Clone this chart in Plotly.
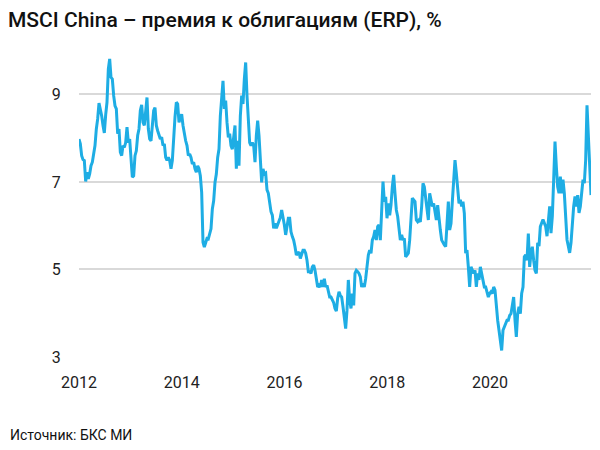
import pandas as pd
import plotly.graph_objects as go

# MSCI China ERP, % (roughly every 9-10 days, Jan 2012 - Dec 2021)
erp_2012_2015 = [
    7.98, 7.87, 7.60, 7.51, 7.49, 7.01, 7.22, 7.07, 7.18, 7.37, 7.45, 7.68, 7.83, 8.21,
    8.44, 8.80, 8.67, 8.51, 8.29, 8.12, 8.53, 8.82, 9.58, 9.81, 9.39, 9.35, 8.97, 8.74,
    8.67, 8.10, 8.21, 7.68, 7.60, 7.83, 7.79, 7.90, 8.25, 7.90, 7.98, 7.45, 7.11, 7.14,
    7.60, 7.71, 8.06, 8.21, 8.63, 8.76, 8.36, 8.29, 8.59, 8.93, 8.21, 7.98, 7.94, 8.32,
    8.63, 8.70, 8.29, 8.17, 8.06, 7.98, 8.02, 7.83, 7.87, 7.56, 7.49, 7.56, 7.49, 7.30,
    7.49, 8.13, 8.48, 8.82, 8.78, 8.36, 8.48, 8.55, 8.29, 8.06, 7.94, 7.83, 7.60, 7.64,
    7.56, 7.41, 7.45, 7.30, 7.22, 7.37, 7.30, 7.14, 6.76, 5.62, 5.51, 5.61, 5.71, 5.70,
    5.84, 5.93, 6.38, 6.57, 6.99, 7.18, 7.56, 7.75, 8.51, 9.05, 9.31, 8.67, 8.86, 8.36,
    8.02, 8.10, 7.83, 7.75, 8.10, 8.29, 7.30, 7.94, 7.37, 8.51, 8.97, 8.78, 9.35, 9.73,
    8.97, 8.29, 7.90, 7.83, 7.90, 7.83, 7.45, 8.06, 8.40, 8.06, 7.49, 6.99, 7.30, 7.18,
]
erp_2015_2018 = [
    7.20, 6.82, 6.74, 6.47, 6.32, 6.24, 5.94, 6.05, 5.94, 6.02, 6.09, 6.19, 6.36, 6.21,
    6.02, 5.79, 5.94, 6.17, 6.17, 5.86, 5.75, 5.67, 5.52, 5.33, 5.37, 5.40, 5.25, 5.37,
    5.44, 5.44, 5.37, 5.21, 4.95, 4.95, 4.91, 5.06, 5.10, 4.98, 4.76, 4.60, 4.64, 4.60,
    4.76, 4.60, 4.79, 4.60, 4.64, 4.53, 4.37, 4.37, 4.31, 4.24, 4.11, 4.05, 4.34, 4.49,
    4.41, 4.37, 4.15, 3.92, 3.65, 4.07, 4.76, 4.30, 4.11, 4.45, 4.18, 4.91, 4.98, 4.95,
    4.91, 4.83, 4.60, 4.68, 4.60, 4.79, 5.14, 5.33, 5.44, 5.37, 5.67, 5.75, 5.90, 5.67,
    5.98, 6.02, 5.67, 6.21, 7.01, 6.55, 6.66, 6.17, 6.51, 6.24, 6.47, 6.89, 7.16, 6.74,
    6.36,
]
erp_2018_2021 = [
    6.21, 5.90, 5.67, 5.79, 5.67, 5.71, 5.29, 5.33, 5.37, 5.67, 6.13, 6.63, 6.59, 6.55,
    6.13, 6.09, 6.13, 6.09, 6.44, 6.97, 6.89, 6.66, 6.44, 6.13, 6.74, 6.59, 6.44, 6.51,
    6.28, 6.13, 6.47, 6.13, 5.90, 5.67, 5.60, 5.56, 5.52, 6.05, 6.55, 5.90, 6.05, 6.55,
    6.97, 7.50, 7.20, 6.89, 6.51, 6.59, 6.44, 6.55, 6.28, 5.37, 5.44, 5.06, 4.60, 5.06,
    4.98, 4.91, 4.98, 4.60, 4.91, 4.76, 5.06, 4.91, 4.68, 4.60, 4.60, 4.45, 4.37, 4.45,
    4.49, 4.45, 4.60, 4.53, 4.15, 3.84, 3.61, 3.38, 3.15, 3.61, 3.69, 3.76, 3.84, 3.84,
    3.95, 3.99, 4.15, 4.37, 3.84, 3.46, 3.99, 4.15, 3.99, 4.45, 4.60, 5.29, 5.33, 5.21,
    5.82, 5.06, 5.37, 5.52, 5.21, 4.98, 4.91,
]
erp_2021_end = [
    5.61, 5.53, 5.98, 6.06, 6.14, 6.06, 5.98, 5.76, 6.14, 6.44, 5.83, 6.21, 7.05, 7.92,
    7.35, 6.89, 6.74, 7.12, 6.74, 7.05, 6.74, 6.29, 5.68, 5.53, 5.38, 5.61, 6.14, 6.44,
    6.67, 6.44, 6.70, 6.29, 6.44, 6.82, 7.05, 6.97, 7.50, 8.75, 7.95, 7.35, 6.70,
]

erp = erp_2012_2015 + erp_2015_2018 + erp_2018_2021 + erp_2021_end
dates = pd.date_range("2012-01-01", "2021-12-20", periods=len(erp))

y_ticks = [3, 5, 7, 9]
x_ticks = ["2012-01-01", "2014-01-01", "2016-01-01", "2018-01-01", "2020-01-01"]
x_labels = ["2012", "2014", "2016", "2018", "2020"]

fig = go.Figure()
fig.add_trace(go.Scatter(
    x=dates, y=erp, mode="lines",
    line=dict(color="#1EADE4", width=3),
    hoverinfo="skip",
))

# the page body adds an 8px margin, so everything is laid out 8px up/left
fig.update_layout(
    width=600, height=450,
    margin=dict(l=71, r=17, t=47, b=101),
    paper_bgcolor="white", plot_bgcolor="white",
    showlegend=False,
    font=dict(family="Roboto, Arial, sans-serif", size=16, color="#222222"),
    title=dict(
        text="MSCI China – премия к облигациям (ERP), %",
        x=0, xref="container", xanchor="left",
        y=1 - 12 / 450, yref="container", yanchor="middle",
        pad=dict(l=0, t=0),
        font=dict(family="Roboto, Arial, sans-serif", size=21, color="#111111", weight=500),
    ),
    annotations=[dict(
        text="Источник: БКС МИ",
        xref="paper", yref="paper",
        x=-71 / 512, y=-(435 - 357) / 302,
        xanchor="left", yanchor="middle",
        showarrow=False,
        font=dict(family="Roboto, Arial, sans-serif", size=14, color="#111111"),
    )],
)

fig.update_xaxes(
    range=[dates[0], dates[-1]],
    tickvals=x_ticks, ticktext=x_labels,
    showgrid=False, zeroline=False, showline=False,
    ticks="outside", ticklen=11, tickcolor="rgba(0,0,0,0)",
)
fig.update_yaxes(
    range=[3, 9.9],
    tickvals=y_ticks,
    showgrid=True, gridcolor="#D9D9D9", gridwidth=1.5,
    zeroline=False, showline=False,
    ticks="outside", ticklen=14, tickcolor="rgba(0,0,0,0)",
)

fig.write_html("out.html")
